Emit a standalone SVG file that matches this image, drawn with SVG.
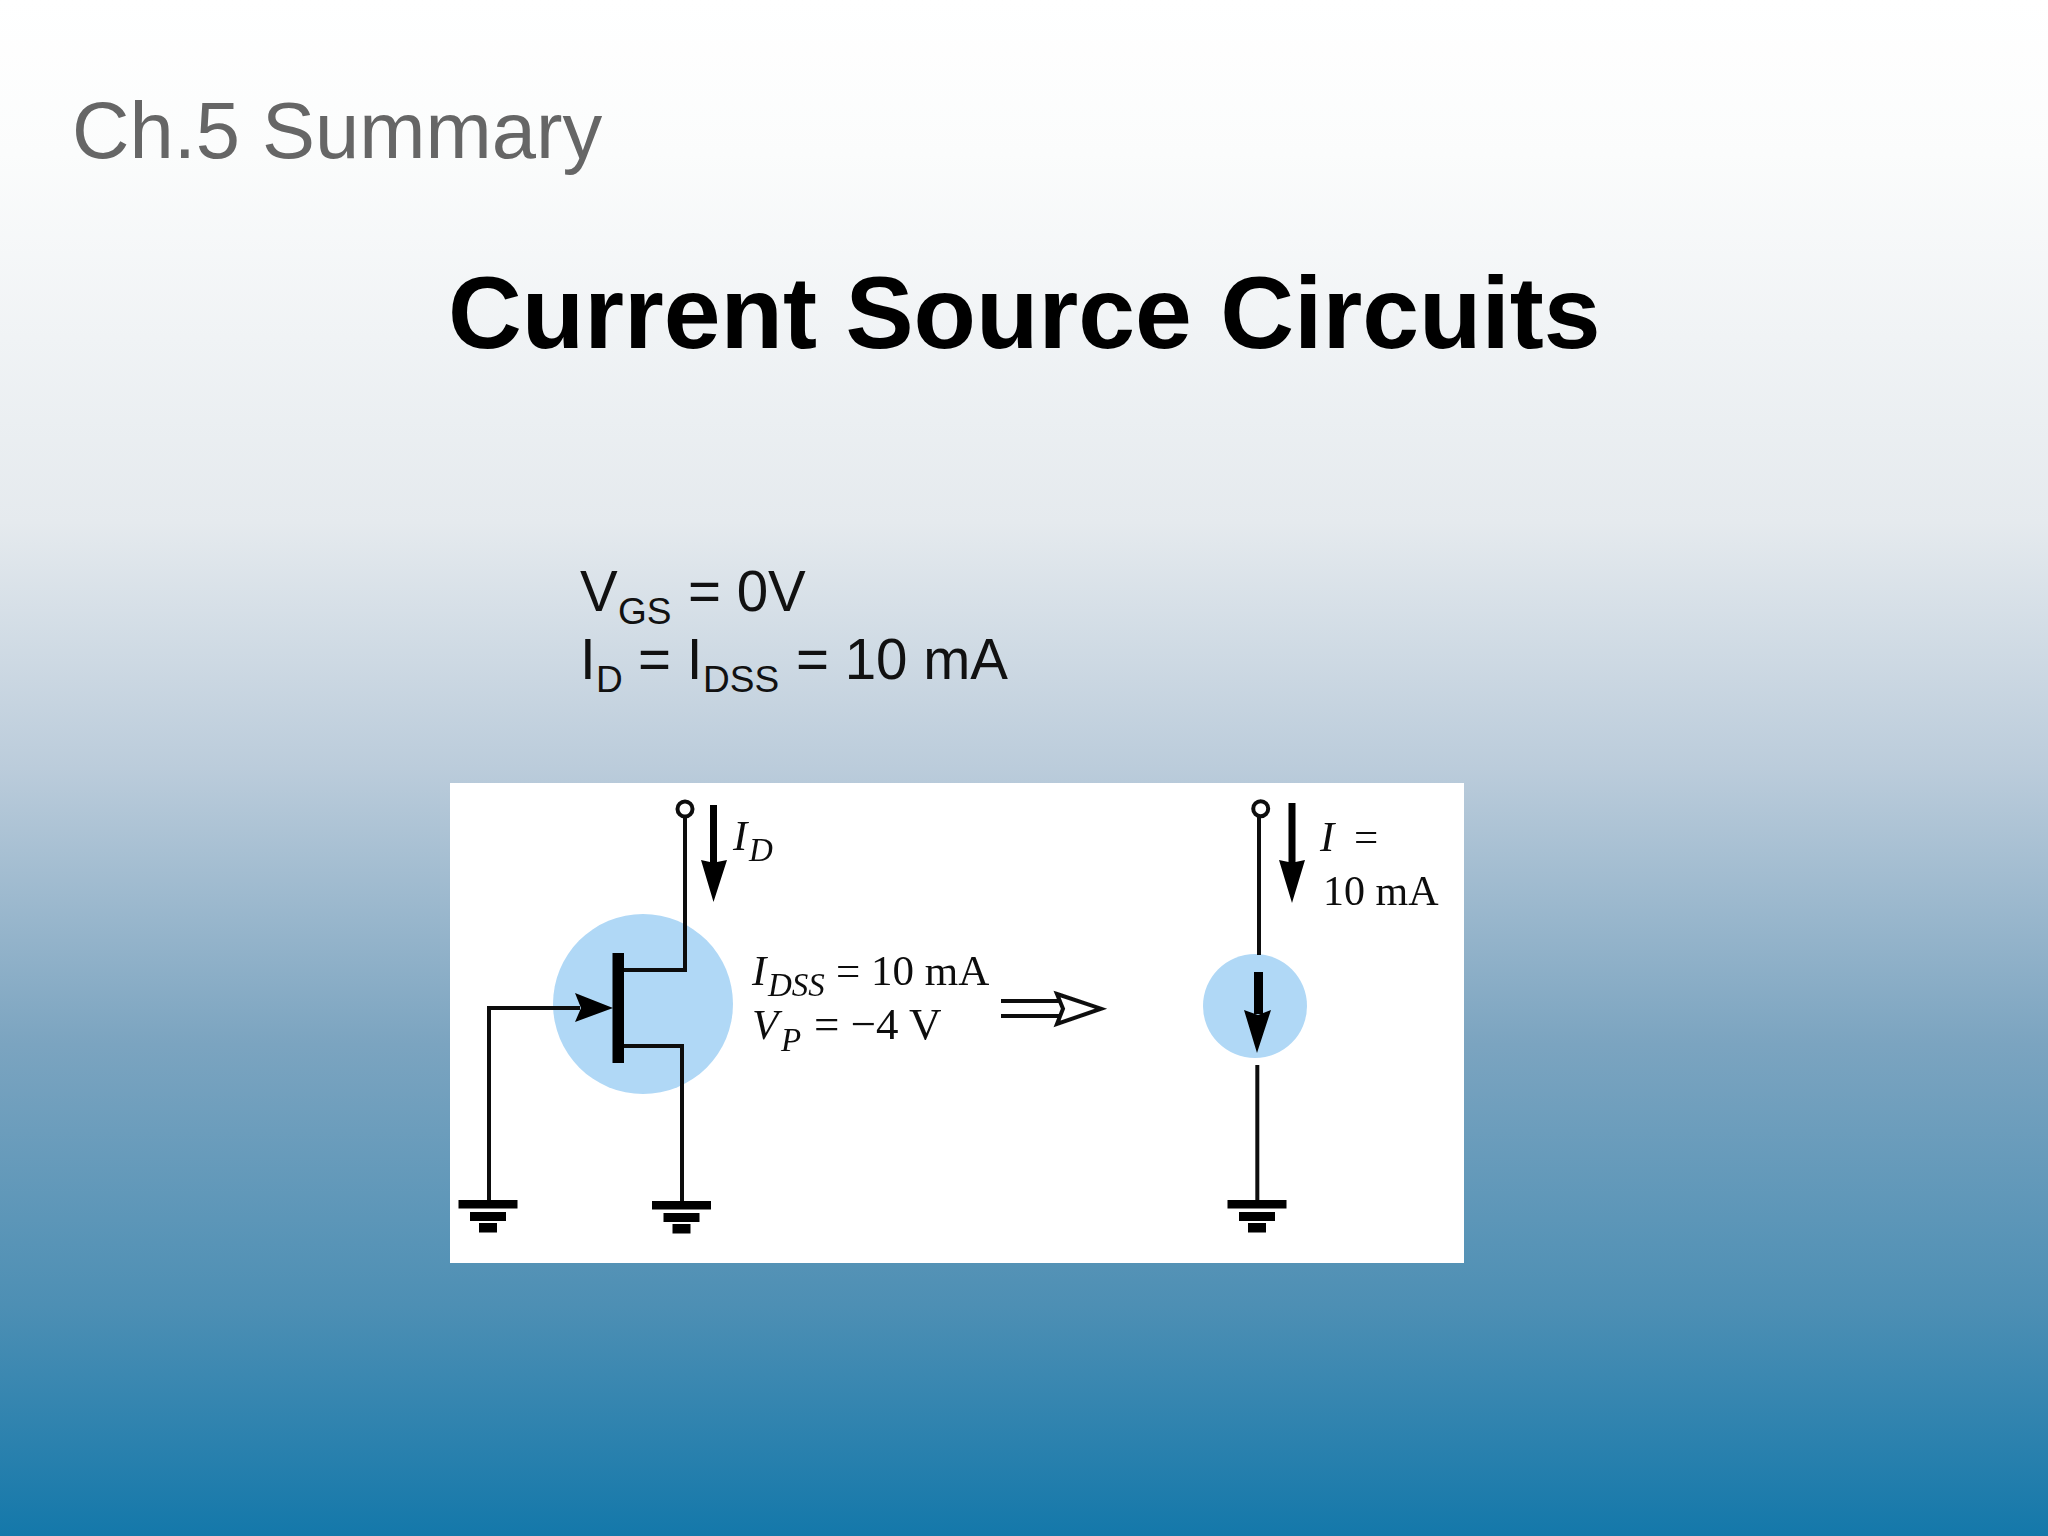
<svg xmlns="http://www.w3.org/2000/svg" width="2048" height="1536" viewBox="0 0 2048 1536">
<style>
.s{font-family:"Liberation Sans",Arial,sans-serif}
.t{font-family:"Liberation Serif","Times New Roman",serif;fill:#111}
.w{fill:none;stroke:#111;stroke-width:4}
.f{fill:#000}
.c{fill:#b0d8f6}
.m{font-size:43px}
.k{font-size:42px}
.n{font-size:33px;font-style:italic}
.i{font-size:43px;font-style:italic}
.v{fill:#111;font-size:56.500px}
.u{fill:#111;font-size:37px}
.b{filter:url(#soft)}
</style>
<defs>
<filter id="soft" x="-5%" y="-5%" width="110%" height="110%"><feGaussianBlur stdDeviation="0.7"/></filter>
<linearGradient id="bg" x1="0" y1="0" x2="0" y2="1">
<stop offset="0" stop-color="#ffffff"/>
<stop offset="0.1" stop-color="#fbfcfc"/>
<stop offset="0.34" stop-color="#e5eaee"/>
<stop offset="0.5" stop-color="#bbccdb"/>
<stop offset="0.68" stop-color="#7ba4c0"/>
<stop offset="0.85" stop-color="#4d8fb4"/>
<stop offset="1" stop-color="#1478aa"/>
</linearGradient>
<g id="gnd">
<rect x="-29.500" y="0" width="59" height="8.500" class="f"/>
<rect x="-18" y="12" width="36" height="9" class="f"/>
<rect x="-9" y="23" width="18" height="9.500" class="f"/>
</g>
</defs>
<rect id="background" width="2048" height="1536" fill="url(#bg)"/>
<g id="heading">
<text class="s" x="72" y="158" font-size="79.500" fill="#666666">Ch.5 Summary</text>
<text class="s" x="448" y="348" font-size="102.200" font-weight="700" fill="#000">Current Source Circuits</text>
</g>
<g id="equations" class="s">
<text class="v" x="580" y="611">V</text><text class="u" x="618" y="624">GS</text><text class="v" x="688" y="611">= 0V</text>
<text class="v" x="580" y="679">I</text><text class="u" x="596" y="692">D</text><text class="v" x="638" y="679">= I</text><text class="u" x="703" y="692">DSS</text><text class="v" x="796" y="679">= 10 mA</text>
</g>
<rect id="panel" x="450" y="783" width="1014" height="480" fill="#ffffff"/>
<g id="jfet" class="b">
<circle class="c" cx="643" cy="1004" r="90"/>
<rect x="612.500" y="953" width="11.500" height="110" class="f"/>
<path d="M575 993L613 1008L575 1022L581 1008Z" class="f"/>
</g>
<g id="source-symbol" class="b">
<circle class="c" cx="1255" cy="1006" r="52"/>
<rect x="1254" y="972" width="9" height="42" class="f"/>
<path d="M1244 1010L1258 1015L1271 1010L1257 1053Z" class="f"/>
</g>
<g id="connectors" class="b">
<circle class="w" cx="685" cy="809" r="7.500"/>
<path class="w" d="M685 817V970H624"/>
<path class="w" d="M624 1046H682V1201"/>
<path class="w" d="M489 1201V1008H580"/>
<circle class="w" cx="1260.700" cy="808.700" r="7.500"/>
<path class="w" d="M1259 817V955"/>
<path class="w" d="M1257.300 1065V1200"/>
<path class="f" d="M710 805H717V862L727 860L713.500 902L701 860L710 862Z"/>
<path class="f" d="M1288.500 803H1295.500V862L1305 860L1292 903L1279 860L1288.500 862Z"/>
<path class="w" d="M1001 1001H1063M1001 1016H1063"/>
<path d="M1057 994L1101 1008.700L1057 1024L1063 1008.700Z" fill="#fff" stroke="#111" stroke-width="4"/>
</g>
<g id="ground-gate" class="b"><use href="#gnd" x="488" y="1200"/></g>
<g id="ground-source" class="b"><use href="#gnd" x="681.500" y="1201"/></g>
<g id="ground-current" class="b"><use href="#gnd" x="1257" y="1200"/></g>
<g id="labels" class="b">
<text class="t i" x="733" y="850">I</text><text class="t n" x="749" y="861">D</text>
<text class="t i" x="752" y="985">I</text><text class="t n" x="768" y="996">DSS</text><text class="t m" x="836" y="985">= 10 mA</text>
<text class="t i" x="752" y="1039">V</text><text class="t n" x="781" y="1051">P</text><text class="t" font-size="45" x="814" y="1039">= −4 V</text>
<text class="t i" x="1320" y="851">I</text><text class="t m" x="1354" y="851">=</text>
<text class="t k" x="1323" y="905">10 mA</text>
</g>
</svg>
